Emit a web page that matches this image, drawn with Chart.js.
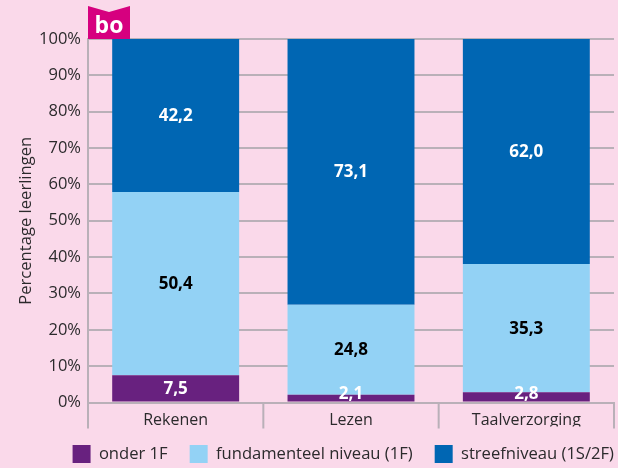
<!DOCTYPE html>
<html><head><meta charset="utf-8">
<style>html,body{margin:0;padding:0;background:#fad9ea;overflow:hidden}#w{position:relative;width:618px;height:468px}</style>
<script src="https://cdn.jsdelivr.net/npm/chart.js@4"></script></head>
<body><div id="w"><canvas id="c" width="618" height="468"></canvas></div>
<script>
const categories=["Rekenen","Lezen","Taalverzorging"];
const onder=[7.5,2.1,2.8];
const fundamenteel=[50.4,24.8,35.3];
const streef=[42.2,73.1,62.0];
const seriesNames=["onder 1F","fundamenteel niveau (1F)","streefniveau (1S/2F)"];
const yTitle="Percentage leerlingen";
const badge="bo";
const FONT='"Open Sans","Noto Sans",sans-serif';
const INK='#2b2a2c',GRID='#b9b0b8';
const labelPlugin={id:'lab',
 beforeLayout(ch){
  const lg=ch.legend;
  if(lg&&!lg._wrapped){
    const f=lg.fit;
    lg.fit=function(){f.call(this);this.height=41.5;};
    lg._wrapped=true;
  }
 },
 afterLayout(ch){ch.legend.top=423;ch.legend.right=636;},
 beforeDatasetsDraw(ch){
  const c=ch.ctx,x=ch.scales.x,a=ch.chartArea;
  c.save();c.strokeStyle=GRID;c.lineWidth=2;
  for(let i=0;i<=categories.length;i++){
    const p=x.getPixelForValue(i-0.5);
    c.beginPath();c.moveTo(p,a.bottom);c.lineTo(p,a.bottom+26);c.stroke();
  }
  c.restore();
 },
 afterDatasetsDraw(ch){
  const c=ch.ctx,z=ch.scales.y.getPixelForValue(0);
  ch.data.datasets.forEach((d,i)=>{
    ch.getDatasetMeta(i).data.forEach((el,j)=>{
      const y=Math.min((el.y+el.base)/2+0.5,z-8);
      c.save();c.font='bold 17px '+FONT;c.textAlign='center';c.textBaseline='middle';
      c.fillStyle=i===1?'#000':'#fff';
      c.fillText(d.data[j].toFixed(1).replace('.',','),el.x,y);c.restore();
    });
  });
  const a=ch.chartArea,t=a.top;
  c.save();c.fillStyle='#d6007f';c.beginPath();
  const l=a.left;
  c.moveTo(l,t);c.lineTo(l,t-33);c.lineTo(l+21,t-27);c.lineTo(l+42,t-33);c.lineTo(l+42,t);c.closePath();c.fill();
  c.fillStyle='#fff';c.font='bold 23px '+FONT;c.textAlign='center';c.textBaseline='middle';
  c.fillText(badge,l+21,t-13);c.restore();
}};
new Chart(document.getElementById('c'),{type:'bar',plugins:[labelPlugin],
 data:{labels:categories,datasets:[
  {label:seriesNames[0],data:onder,backgroundColor:'#68217f'},
  {label:seriesNames[1],data:fundamenteel,backgroundColor:'#93d2f5'},
  {label:seriesNames[2],data:streef,backgroundColor:'#0066b3'}]},
 options:{responsive:false,animation:false,
  layout:{padding:{top:39,right:4,left:16,bottom:0}},
  datasets:{bar:{barPercentage:0.724,categoryPercentage:1}},
  plugins:{tooltip:{enabled:false},title:{display:false},
   legend:{position:'bottom',align:'end',labels:{boxWidth:18,boxHeight:18,padding:22,color:INK,font:{family:FONT,size:16.6}}}},
  scales:{
   x:{stacked:true,
      afterFit(s){s.height=24},
      grid:{drawOnChartArea:false,drawTicks:false},
      border:{color:GRID,width:2},
      ticks:{color:INK,font:{family:FONT,size:16},padding:8,maxRotation:0}},
   y:{stacked:true,min:0,max:100,
      afterFit(s){s.width=72},
      title:{display:true,text:yTitle,color:INK,font:{family:FONT,size:16.6},padding:{top:0,bottom:4}},
      grid:{color:GRID,lineWidth:2,drawTicks:false},
      border:{color:GRID,width:2},
      ticks:{stepSize:10,color:INK,padding:7,font:{family:FONT,size:16.5},callback:v=>v+'%'}}
  }}});
</script></body></html>
